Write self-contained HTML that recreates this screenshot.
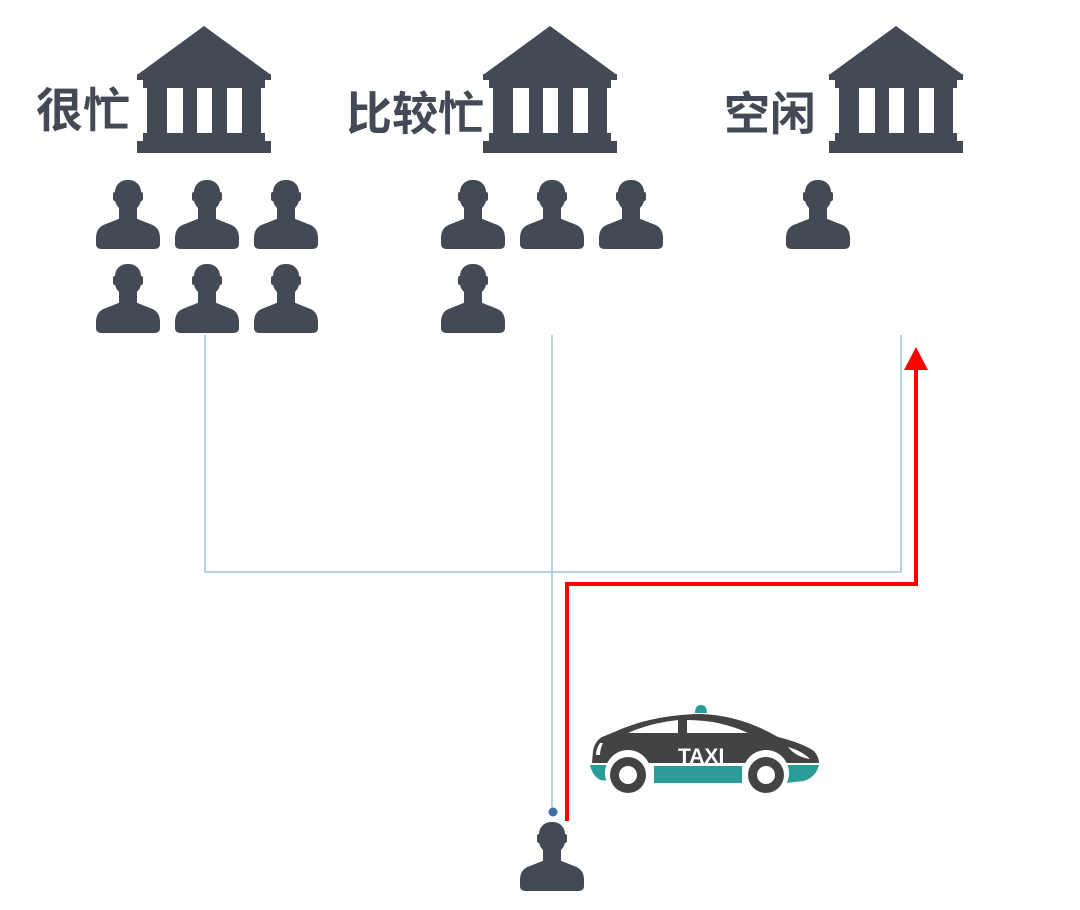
<!DOCTYPE html>
<html><head><meta charset="utf-8"><style>
body{margin:0;background:#fff;}
svg{display:block}
text{font-family:"Liberation Sans","Noto Sans CJK SC",sans-serif;font-weight:bold;}
</style></head><body>
<svg width="1080" height="910" viewBox="0 0 1080 910" xmlns="http://www.w3.org/2000/svg">
<defs>
<g id="bld">
<polygon points="0,49 67,0 134,49" fill="#434a55"/>
<rect x="0" y="48" width="134" height="6" fill="#434a55"/>
<rect x="6" y="54" width="122" height="8" fill="#434a55"/>
<rect x="10" y="62" width="114" height="46" fill="#434a55"/>
<rect x="6" y="107" width="122" height="9" fill="#434a55"/>
<rect x="30" y="62" width="16" height="45" fill="#fff"/>
<rect x="60" y="62" width="15" height="45" fill="#fff"/>
<rect x="90" y="62" width="15" height="45" fill="#fff"/>
<rect x="0" y="115" width="134" height="12" fill="#434a55"/>
</g>
<g id="p" fill="#434a55">
<rect x="19" y="0" width="26" height="31" rx="12"/>
<rect x="17" y="12" width="4" height="9" rx="2"/>
<rect x="43" y="12" width="4" height="9" rx="2"/>
<rect x="23" y="22" width="18" height="20"/>
<path d="M0,58 Q0,47 10,44 L25,38 L39,38 L54,44 Q64,47 64,58 L64,64 Q64,69 58,69 L6,69 Q0,69 0,64 Z"/>
</g>
</defs>
<use href="#bld" x="137" y="26"/>
<use href="#bld" x="483" y="26"/>
<use href="#bld" x="829" y="26"/>
<text x="36" y="127" font-size="47" fill="#434a55">很忙</text>
<text x="346" y="130" font-size="46" fill="#434a55">比较忙</text>
<text x="724" y="130" font-size="46" fill="#434a55">空闲</text>
<use href="#p" x="96" y="180"/><use href="#p" x="175" y="180"/><use href="#p" x="254" y="180"/>
<use href="#p" x="96" y="264"/><use href="#p" x="175" y="264"/><use href="#p" x="254" y="264"/>
<use href="#p" x="441" y="180"/><use href="#p" x="520" y="180"/><use href="#p" x="599" y="180"/>
<use href="#p" x="441" y="264"/>
<use href="#p" x="786" y="180"/>
<use href="#p" x="520" y="822"/>
<g stroke="#9dc3e6" stroke-width="1.5" fill="none">
<polyline points="205,335 205,572 901,572 901,335"/>
<line x1="552" y1="335" x2="552" y2="810"/>
</g>
<circle cx="553" cy="812" r="4.5" fill="#3e6fa8"/>
<polyline points="567,821 567,584 916,584 916,366" stroke="#ff0000" stroke-width="4" fill="none"/>
<polygon points="916,347 904,370 928,370" fill="#ff0000"/>
<g transform="translate(590,703)">
<path d="M105,10 q0,-8 6,-8 q6,0 6,8 z" fill="#2a9d98"/>
<path d="M2,60 L3,48 Q5,38 12,34 L22,30 Q60,12 110,11 Q150,12 188,34 Q212,40 224,48 Q229,54 229,60 Z" fill="#434343"/>
<path d="M38,30 Q60,20 88,17 L88,30 Z" fill="#fff"/>
<path d="M97,17 Q130,17 158,30 L97,30 Z" fill="#fff"/>
<path d="M198,44 q14,4 22,12 q-14,-2 -22,-12z" fill="#fff"/>
<path d="M10,40 q-4,6 -4,12 l4,0 q0,-6 3,-12z" fill="#fff"/>
<text x="88" y="60" font-size="21" fill="#fff" font-weight="normal">TAXI</text>
<path d="M0,62 L30,62 L30,79 L10,77 Q2,72 0,62Z" fill="#2a9d98"/>
<rect x="64" y="63" width="88" height="17" fill="#2a9d98"/>
<path d="M196,62 L229,62 Q226,74 214,78 L196,80Z" fill="#2a9d98"/>
<circle cx="38" cy="70" r="23" fill="#fff"/>
<circle cx="176" cy="70" r="23" fill="#fff"/>
<circle cx="38" cy="72" r="18" fill="#434343"/><circle cx="38" cy="72" r="9" fill="#fff"/>
<circle cx="176" cy="72" r="18" fill="#434343"/><circle cx="176" cy="72" r="9" fill="#fff"/>
</g>
</svg>
</body></html>
